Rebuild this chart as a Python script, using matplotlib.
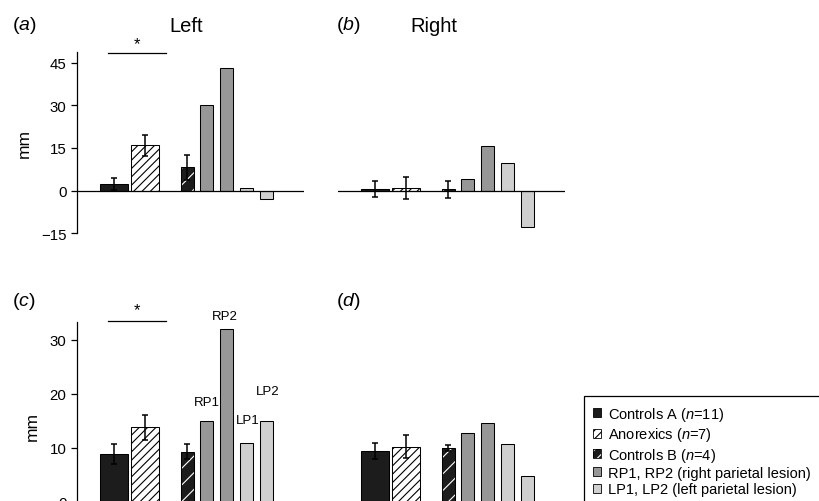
import matplotlib
matplotlib.use("Agg")
import matplotlib.pyplot as plt
from matplotlib.patches import Patch, Rectangle

plt.rcParams["font.family"] = ["Liberation Sans", "DejaVu Sans"]
plt.rcParams["mathtext.fontset"] = "custom"
plt.rcParams["mathtext.rm"] = "Liberation Sans"
plt.rcParams["mathtext.it"] = "Liberation Sans:italic"
plt.rcParams["hatch.linewidth"] = 0.8

# groups, in bar order
groups = ["Controls A", "Anorexics", "Controls B", "RP1", "RP2", "LP1", "LP2"]
legend_labels = [r"Controls A ($\mathit{n}$=11)", r"Anorexics ($\mathit{n}$=7)",
                 r"Controls B ($\mathit{n}$=4)", "RP1, RP2 (right parietal lesion)",
                 "LP1, LP2 (left parietal lesion)"]

# values (mm)
vals_a = [2.3, 15.9, 8.3, 30.0, 43.0, 1.0, -3.0]
err_a = [2.2, 3.8, 4.4]
vals_b = [0.6, 1.0, 0.5, 4.0, 15.8, 9.8, -12.8]
err_b = [2.9, 3.8, 2.9]
vals_c = [8.9, 13.8, 9.3, 14.9, 32.0, 10.9, 15.0]
err_c = [1.8, 2.3, 1.4]
vals_d = [9.4, 10.2, 10.0, 12.7, 14.7, 10.7, 4.8]
err_d = [1.5, 2.1, 0.6]

# layout of the bars (x in pixel-like units)
xpos = [37.5, 68, 110.5, 129.5, 149.5, 169.5, 189.5]
widths = [28, 28, 13, 13, 13, 13, 13]
RP_COL = "#979797"
LP_COL = "#cfcfcf"
DARK = "#1c1c1c"

W, H = 820, 502
fig = plt.figure(figsize=(W / 100, H / 100), dpi=100)


def fax(left, top, right, bottom):
    # axes from pixel box
    return fig.add_axes([left / W, 1 - bottom / H, (right - left) / W, (bottom - top) / H])


def draw_bars(ax, vals, errs):
    lw = 0.75
    # Controls A
    ax.bar(xpos[0], vals[0], widths[0], color=DARK, edgecolor="black", linewidth=lw)
    # Anorexics
    ax.bar(xpos[1], vals[1], widths[1], color="white", edgecolor="black", hatch="////", linewidth=lw)
    # Controls B: white hatch on dark, then black outline
    ax.bar(xpos[2], vals[2], widths[2], color=DARK, edgecolor="white", hatch="//", linewidth=0)
    ax.bar(xpos[2], vals[2], widths[2], fill=False, edgecolor="black", linewidth=lw)
    # patients
    for i, col in zip(range(3, 7), [RP_COL, RP_COL, LP_COL, LP_COL]):
        ax.bar(xpos[i], vals[i], widths[i], color=col, edgecolor="black", linewidth=lw)
    ax.errorbar(xpos[:3], vals[:3], yerr=errs, fmt="none", ecolor="black",
                elinewidth=1.1, capsize=2.2, capthick=1.1)
    ax.axhline(0, color="black", linewidth=0.9)
    ax.set_xlim(0, 227)
    ax.set_xticks([])
    for s in ["top", "right", "bottom"]:
        ax.spines[s].set_visible(False)


def style_yaxis(ax, ticks):
    ax.spines["left"].set_linewidth(0.9)
    ax.set_yticks(ticks)
    ax.set_yticklabels([str(t).replace("-", "\u2212") for t in ticks])
    ax.tick_params(axis="y", direction="out", length=4.5, width=0.9, labelsize=10.8, pad=3)
    ax.set_ylabel("mm", fontsize=12.5, labelpad=7)


# top row: scale 2.847 px per mm, zero at y=191.7
ax_a = fax(77, 53, 304, 234.4)
ax_b = fax(338, 53, 565, 234.4)
for ax, v, e in [(ax_a, vals_a, err_a), (ax_b, vals_b, err_b)]:
    draw_bars(ax, v, e)
    ax.set_ylim(-15, 48.7)
style_yaxis(ax_a, [-15, 0, 15, 30, 45])
ax_b.spines["left"].set_visible(False)
ax_b.set_yticks([])

# bottom row: scale 5.4 px per mm, zero at y=503 (cropped)
ax_c = fax(77, 323, 304, 530)
ax_d = fax(338, 323, 565, 530)
for ax, v, e in [(ax_c, vals_c, err_c), (ax_d, vals_d, err_d)]:
    draw_bars(ax, v, e)
    ax.set_ylim(-5, 33.3)
style_yaxis(ax_c, [0, 10, 20, 30])
ax_d.spines["left"].set_visible(False)
ax_d.set_yticks([])

# significance markers
for ax, ly, sy in [(ax_a, 48.4, 51.6), (ax_c, 33.5, 35.6)]:
    ax.plot([31, 89], [ly, ly], color="black", linewidth=0.9, clip_on=False)
    ax.text(60, sy, "*", ha="center", va="center", fontsize=12)

# patient labels in (c)
lab_dx = [0, -2, 1, 1.5]
lab_dy = [3.6, 2.4, 4.3, 5.6]
for i, name in enumerate(groups[3:]):
    ax_c.text(xpos[3 + i] + lab_dx[i], vals_c[3 + i] + lab_dy[i], name,
              ha="center", va="center", fontsize=9.5)

# panel letters and titles
for x, y, letter in [(24, 25, "a"), (348, 25, "b"), (24, 302, "c"), (348, 302, "d")]:
    fig.text(x / W, 1 - y / H, "(" + r"$\mathit{" + letter + "}$" + ")",
             ha="center", va="center", fontsize=14)
fig.text(186 / W, 1 - 27 / H, "Left", ha="center", va="center", fontsize=14.5)
fig.text(434 / W, 1 - 27 / H, "Right", ha="center", va="center", fontsize=14.5)

# legend
handles = [
    Patch(facecolor=DARK, edgecolor="black", linewidth=0.6),
    Patch(facecolor="white", edgecolor="black", hatch="////", linewidth=0.6),
    (Patch(facecolor=DARK, edgecolor="white", hatch="///", linewidth=0),
     Patch(fill=False, edgecolor="black", linewidth=0.6)),
    Patch(facecolor=RP_COL, edgecolor="black", linewidth=0.6),
    Patch(facecolor=LP_COL, edgecolor="black", linewidth=0.6),
]
fig.legend(handles, legend_labels, loc="upper left",
           bbox_to_anchor=(593 / W, 1 - 406 / H), frameon=False,
           fontsize=10.5, handlelength=0.55, handleheight=0.55,
           handletextpad=0.45, labelspacing=0.16, borderpad=0, borderaxespad=0)
fig.patches.append(Rectangle((584 / W, -0.05), 0.3, 1.05 - 397 / H, fill=False,
                             edgecolor="black", linewidth=0.9, transform=fig.transFigure))

fig.savefig("out.png", dpi=100)
